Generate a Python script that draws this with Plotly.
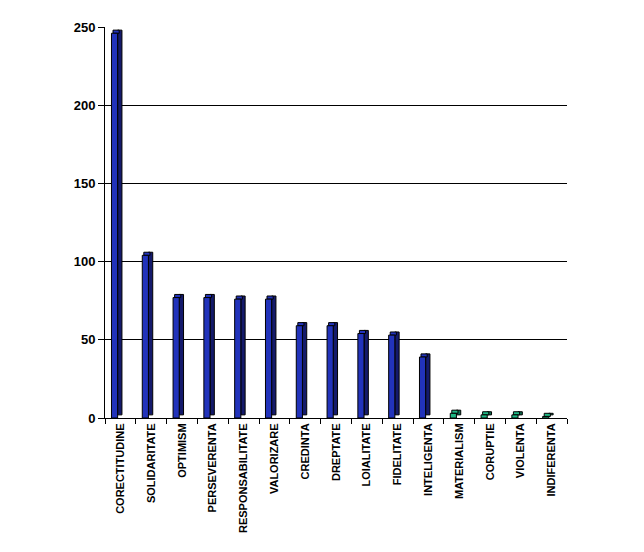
import plotly.graph_objects as go

categories = [
    "CORECTITUDINE", "SOLIDARITATE", "OPTIMISM", "PERSEVERENTA",
    "RESPONSABILITATE", "VALORIZARE", "CREDINTA", "DREPTATE",
    "LOIALITATE", "FIDELITATE", "INTELIGENTA", "MATERIALISM",
    "CORUPTIE", "VIOLENTA", "INDIFERENTA",
]
values = [246, 104, 77, 77, 76, 76, 59, 59, 54, 53, 39, 3, 2, 2, 1]
positive = [True] * 11 + [False] * 4
y_ticks = [0, 50, 100, 150, 200, 250]

FRONT_BLUE = "#2233bb"
SIDE_BLUE = "#141a6b"
FRONT_GREEN = "#1fb784"
SIDE_GREEN = "#0e6e52"
DEPTH = 2.0

front_colors = [FRONT_BLUE if p else FRONT_GREEN for p in positive]
side_colors = [SIDE_BLUE if p else SIDE_GREEN for p in positive]

fig = go.Figure()
# depth face drawn first, shifted right and up
fig.add_trace(go.Bar(
    x=categories, y=values, base=[DEPTH] * len(values),
    width=0.14, offset=-0.09,
    marker=dict(color=side_colors, line=dict(color="black", width=1)),
    hoverinfo="skip", showlegend=False,
))
# top face
fig.add_trace(go.Bar(
    x=categories, y=[DEPTH] * len(values), base=values,
    width=0.2, offset=-0.24,
    marker=dict(color=front_colors, line=dict(color="black", width=1)),
    hoverinfo="skip", showlegend=False,
))
fig.add_trace(go.Bar(
    x=categories, y=values,
    width=0.2, offset=-0.29,
    marker=dict(color=front_colors, line=dict(color="black", width=1)),
    showlegend=False,
))

fig.update_layout(
    width=644, height=552,
    barmode="overlay",
    plot_bgcolor="white", paper_bgcolor="white",
    margin=dict(l=97, r=85, t=19, b=142, autoexpand=False),
    font=dict(family="Liberation Sans, Arial", color="black"),
    xaxis=dict(
        tickangle=-90, tickfont=dict(size=11),
        tickvals=categories, ticktext=[f"<b>{c}</b>" for c in categories],
        ticks="outside", tickson="boundaries", ticklen=5, tickcolor="black",
        showline=True, linecolor="black", linewidth=1,
        showgrid=False,
    ),
    yaxis=dict(
        range=[0, 250], tickvals=y_ticks,
        ticktext=[f"<b>{t}</b>" for t in y_ticks],
        tickfont=dict(size=13),
        ticks="outside", ticklen=6, tickcolor="black",
        showline=True, linecolor="black", linewidth=1,
        showgrid=True, gridcolor="black", gridwidth=1,
        zeroline=False,
    ),
)

fig.write_html("out.html")
